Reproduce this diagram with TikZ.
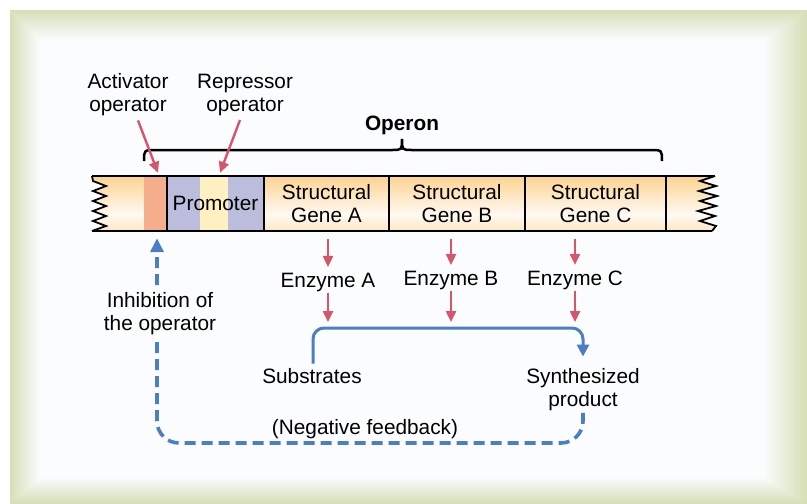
\documentclass[tikz,border=0pt]{standalone}
\usepackage{fontspec}
\setmainfont{Liberation Sans}
\usetikzlibrary{arrows.meta}
\definecolor{panelout}{HTML}{D5DFB8}
\definecolor{panelin}{HTML}{FBFCFD}
\definecolor{bartop}{HTML}{FCD390}
\definecolor{barmid}{HTML}{FFFAF2}
\definecolor{barbot}{HTML}{FDE6C2}
\definecolor{actcol}{HTML}{F4AE8C}
\definecolor{procol}{HTML}{BCBCDD}
\definecolor{proyel}{HTML}{FFF0C2}
\definecolor{redarrow}{HTML}{D5566B}
\definecolor{bluearrow}{HTML}{4C7EC6}
\pgfdeclareverticalshading{barshade}{100bp}{color(0bp)=(barbot); color(25bp)=(barbot); color(40bp)=(barmid); color(75bp)=(bartop); color(100bp)=(bartop)}
\tikzset{
  lbl/.style={font=\fontsize{20.8}{23}\selectfont, align=center, inner sep=0pt},
  seg/.style={rectangle, inner sep=0pt, minimum height=55pt},
  segbox/.style={seg, draw=black, line width=2pt},
  redarr/.style={draw=redarrow, line width=2.4pt, -{Triangle[width=10pt,length=11pt]}},
  bluearr/.style={draw=bluearrow, line width=3pt, -{Triangle[width=12pt,length=12pt]}},
  bluedash/.style={draw=bluearrow, line width=3.6pt, dash pattern=on 11pt off 6pt, -{Triangle[width=13pt,length=14pt]}},
  bracestyle/.style={draw=black, line width=2.5pt},
  edgeline/.style={draw=black, line width=2pt},
  zig/.style={draw=black, line width=1.8pt, line join=miter}
}
\begin{document}
\begin{tikzpicture}[x=1pt,y=-1pt]
\useasboundingbox (0,0) rectangle (807,504);
\fill[white] (0,0) rectangle (807,504);
% panel with soft frame
\foreach \i in {0,...,30}{
  \pgfmathtruncatemacro\p{100*\i/30}
  \fill[panelin!\p!panelout] (10+\i,10+\i) rectangle (807-1.4*\i,504-0.87*\i);
}
% DNA bar background
\fill[shading=barshade] (92,176) -- (715,176)
  -- (700,181) -- (716,186) -- (699,191) -- (717,196) -- (700,201) -- (716,206) -- (698,211) -- (715,216) -- (700,221) -- (716,226) -- (712,231)
  -- (92,231)
  -- (106,226) -- (93,221) -- (106,216) -- (93,211) -- (106,206) -- (93,201) -- (106,196) -- (93,191) -- (106,186) -- (93,181) -- cycle;
% segments
\node[seg, fill=actcol, minimum width=23pt] (actop) at (155.5,203.5) {};
\node[seg, fill=procol, minimum width=33pt] (proL) at (183.5,203.5) {};
\node[seg, fill=proyel, minimum width=28pt] (proY) at (214,203.5) {};
\node[seg, fill=procol, minimum width=36pt] (proR) at (246,203.5) {};
\node[segbox, minimum width=97pt, lbl] (prom) at (215.5,203.5) {Promoter};
\node[segbox, minimum width=125pt, lbl] (geneA) at (326.5,203.5) {Structural\\Gene A};
\node[segbox, minimum width=136pt, lbl] (geneB) at (457,203.5) {Structural\\Gene B};
\node[segbox, minimum width=141pt, lbl] (geneC) at (595.5,203.5) {Structural\\Gene C};
% bar outline
\draw[edgeline] (92,176) -- (715,176);
\draw[edgeline] (92,231) -- (712,231);
\draw[zig] (715,176) -- (700,181) -- (716,186) -- (699,191) -- (717,196) -- (700,201) -- (716,206) -- (698,211) -- (715,216) -- (700,221) -- (716,226) -- (712,231);
\draw[zig] (92,176) -- (93,181) -- (106,186) -- (93,191) -- (106,196) -- (93,201) -- (106,206) -- (93,211) -- (106,216) -- (93,221) -- (106,226) -- (92,231);
% labels
\node[lbl] (act) at (128,95) {Activator\\operator};
\node[lbl] (rep) at (245,95) {Repressor\\operator};
\node[lbl, font=\fontsize{20.8}{23}\selectfont\bfseries] (operon) at (402,125) {Operon};
% brace
\draw[bracestyle] (144,161) .. controls (144,150) .. (156,150) -- (392,150)
  .. controls (402,150) .. (402,139) .. controls (402,150) .. (412,150)
  -- (650,150) .. controls (662,150) .. (662,161);
% label arrows
\draw[redarr] ([xshift=10pt,yshift=-4pt]act.south) -- ([xshift=2.5pt,yshift=3pt]actop.north);
\draw[redarr] ([xshift=-5pt,yshift=-4pt]rep.south) -- ([xshift=6pt,yshift=3pt]proY.north);
% enzymes
\coordinate (hl) at (0,328);
\coordinate (bot) at (0,443);
\node[lbl] (enzA) at (328,282) {Enzyme A};
\node[lbl] (enzB) at (451,280) {Enzyme B};
\node[lbl] (enzC) at (575,280) {Enzyme C};
\foreach \g/\e in {geneA/enzA, geneB/enzB, geneC/enzC}{
  \draw[redarr] ([yshift=-7pt]\g.south -| \e.north) -- ([yshift=5.5pt]\e.north);
  \draw[redarr] ([yshift=-1.5pt]\e.south) -- ([yshift=6pt]\e.south |- hl);
}
\node[lbl] (subs) at (312,376) {Substrates};
\node[lbl] (prod) at (583,390) {Synthesized\\product};
\node[lbl] (negfb) at (365,429) {(Negative feedback)};
\draw[bluearr, rounded corners=11pt] ([xshift=1pt,yshift=4.5pt]subs.north) -- ([xshift=1pt]subs.north |- hl) -- (prod.north |- hl) -- ([yshift=12pt]prod.north);
\draw[bluedash, rounded corners=22pt] ([yshift=-1.5pt]prod.south) -- (prod.south |- bot) -- ([xshift=1.5pt]actop.south |- bot) -- ([xshift=1.5pt,yshift=-7pt]actop.south);
\node[lbl, fill=panelin, inner sep=4pt] (inhib) at (160,313.5) {Inhibition of\\the operator};
\end{tikzpicture}
\end{document}
